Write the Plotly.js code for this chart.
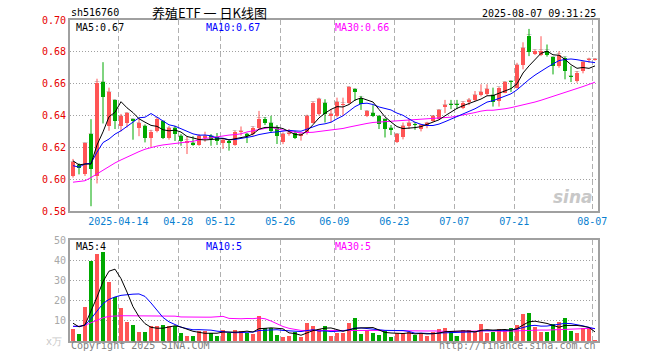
<!DOCTYPE html>
<html><head><meta charset="utf-8">
<script src="https://cdn.plot.ly/plotly-3.0.1.min.js"></script>
<style>html,body{margin:0;padding:0;background:#fff}#chart{width:660px;height:360px}</style>
</head><body><div id="chart"></div>
<script>
const dates = [
'2025-04-01','2025-04-02','2025-04-03','2025-04-07','2025-04-08','2025-04-09','2025-04-10','2025-04-11','2025-04-14','2025-04-15',
'2025-04-16','2025-04-17','2025-04-18','2025-04-21','2025-04-22','2025-04-23','2025-04-24','2025-04-25','2025-04-28','2025-04-29',
'2025-04-30','2025-05-06','2025-05-07','2025-05-08','2025-05-09','2025-05-12','2025-05-13','2025-05-14','2025-05-15','2025-05-16',
'2025-05-19','2025-05-20','2025-05-21','2025-05-22','2025-05-23','2025-05-26','2025-05-27','2025-05-28','2025-05-29','2025-05-30',
'2025-06-03','2025-06-04','2025-06-05','2025-06-06','2025-06-09','2025-06-10','2025-06-11','2025-06-12','2025-06-13','2025-06-16',
'2025-06-17','2025-06-18','2025-06-19','2025-06-20','2025-06-23','2025-06-24','2025-06-25','2025-06-26','2025-06-27','2025-06-30',
'2025-07-01','2025-07-02','2025-07-03','2025-07-04','2025-07-07','2025-07-08','2025-07-09','2025-07-10','2025-07-11','2025-07-14',
'2025-07-15','2025-07-16','2025-07-17','2025-07-18','2025-07-21','2025-07-22','2025-07-23','2025-07-24','2025-07-25','2025-07-28',
'2025-07-29','2025-07-30','2025-07-31','2025-08-01','2025-08-04','2025-08-05','2025-08-06','2025-08-07'];

const open = [
0.6017,0.6090,0.6030,0.6283,0.6023,0.6610,0.6335,0.6496,0.6331,0.6356,
0.6377,0.6319,0.6335,0.6258,0.6300,0.6365,0.6260,0.6319,0.6269,0.6227,
0.6227,0.6215,0.6258,0.6269,0.6262,0.6227,0.6242,0.6215,0.6296,0.6283,
0.6283,0.6319,0.6381,0.6352,0.6319,0.6231,0.6283,0.6292,0.6269,0.6294,
0.6356,0.6408,0.6477,0.6400,0.6398,0.6467,0.6477,0.6565,0.6513,0.6398,
0.6415,0.6394,0.6377,0.6319,0.6231,0.6262,0.6335,0.6348,0.6315,0.6335,
0.6367,0.6381,0.6456,0.6467,0.6467,0.6450,0.6485,0.6498,0.6527,0.6533,
0.6527,0.6492,0.6544,0.6615,0.6575,0.6715,0.6902,0.6788,0.6783,0.6808,
0.6767,0.6710,0.6763,0.6646,0.6615,0.6679,0.6748,0.6748];
const high = [
0.6127,0.6100,0.6230,0.6377,0.6631,0.6735,0.6575,0.6500,0.6410,0.6420,
0.6380,0.6380,0.6344,0.6310,0.6388,0.6367,0.6335,0.6335,0.6283,0.6269,
0.6270,0.6283,0.6298,0.6283,0.6290,0.6258,0.6252,0.6304,0.6331,0.6290,
0.6331,0.6429,0.6390,0.6398,0.6340,0.6294,0.6315,0.6304,0.6288,0.6405,
0.6488,0.6512,0.6502,0.6440,0.6512,0.6512,0.6583,0.6570,0.6523,0.6433,
0.6465,0.6400,0.6380,0.6340,0.6290,0.6356,0.6381,0.6356,0.6346,0.6360,
0.6402,0.6440,0.6498,0.6498,0.6498,0.6490,0.6510,0.6554,0.6596,0.6596,
0.6575,0.6580,0.6615,0.6620,0.6731,0.6860,0.6944,0.6815,0.6898,0.6846,
0.6770,0.6804,0.6770,0.6710,0.6679,0.6740,0.6763,0.6760];
const low = [
0.6010,0.6030,0.6020,0.5830,0.5973,0.6350,0.6304,0.6315,0.6300,0.6325,
0.6248,0.6270,0.6231,0.6200,0.6294,0.6252,0.6248,0.6240,0.6210,0.6158,
0.6210,0.6210,0.6235,0.6210,0.6215,0.6190,0.6179,0.6210,0.6273,0.6227,
0.6273,0.6310,0.6340,0.6290,0.6221,0.6220,0.6273,0.6252,0.6242,0.6280,
0.6350,0.6400,0.6356,0.6356,0.6388,0.6398,0.6470,0.6492,0.6435,0.6390,
0.6390,0.6315,0.6262,0.6277,0.6227,0.6250,0.6315,0.6310,0.6300,0.6320,
0.6360,0.6375,0.6415,0.6440,0.6440,0.6440,0.6465,0.6490,0.6520,0.6525,
0.6456,0.6456,0.6540,0.6548,0.6570,0.6690,0.6773,0.6780,0.6773,0.6770,
0.6658,0.6700,0.6627,0.6610,0.6606,0.6665,0.6731,0.6745];
const close = [
0.6106,0.6070,0.6227,0.6065,0.6606,0.6517,0.6546,0.6367,0.6398,0.6413,
0.6367,0.6352,0.6260,0.6298,0.6381,0.6260,0.6319,0.6283,0.6237,0.6242,
0.6215,0.6269,0.6269,0.6252,0.6237,0.6248,0.6227,0.6298,0.6300,0.6269,
0.6323,0.6381,0.6352,0.6304,0.6269,0.6283,0.6290,0.6260,0.6283,0.6398,
0.6481,0.6502,0.6408,0.6404,0.6483,0.6471,0.6579,0.6548,0.6471,0.6427,
0.6398,0.6346,0.6315,0.6310,0.6283,0.6335,0.6352,0.6340,0.6340,0.6352,
0.6398,0.6435,0.6465,0.6463,0.6463,0.6481,0.6498,0.6527,0.6548,0.6565,
0.6485,0.6575,0.6610,0.6610,0.6715,0.6825,0.6798,0.6808,0.6808,0.6783,
0.6710,0.6783,0.6679,0.6642,0.6669,0.6735,0.6756,0.6756];
const volume = [
5.8,3.5,16.7,39.7,43,44.2,29.2,21.7,16.3,9.6,
8,4.5,4.5,7.2,7.5,8,7.5,7.5,4,2.5,
2.5,5,5,4.2,2.5,5.5,4.2,5.5,5,4.2,
3.3,12.5,6.3,6.3,3,2,2.5,4.7,2,9,
7.5,5.8,7.5,2.5,4.2,4.2,9,11.5,3.5,5.3,
4,3,5.5,2,4,4,4.5,3,3.5,2.5,
4.5,6,6.5,4.5,2.5,5.5,5.5,4.5,8.5,4,
4.5,6,5.5,6.5,8,13.5,14,7,4.5,4.5,
8.5,9.5,11.5,5,4,6.5,6.5,0.5];

// moving-average values at the start of the window
const ma5Head  = [0.6115,0.6090,0.6095,0.6095];
const ma10Head = [0.6085,0.6075,0.6096,0.6100,0.6170,0.6230,0.6252,0.6283,0.6304];
const ma30Head = [0.5981,0.5985,0.5990,0.6010,0.6033,0.6060,0.6081,0.6102,0.6121,0.6140,
                  0.6158,0.6173,0.6188,0.6200,0.6208,0.6215,0.6219,0.6223,0.6227,0.6231,
                  0.6238,0.6246,0.6256,0.6260,0.6267,0.6273,0.6277,0.6280,0.6285];
const vma5Head  = [8.8,7.0,8.0,14.5];
const vma10Head = [7.3,7.2,7.8,11.0,14.8,18.5,20.6,21.8,22.6];
const vma30Head = [7.2,7.3,7.8,9.0,10.5,11.5,12.2,12.5,12.5,12.5,12.5,12.5,12.5,12.5,12.5,
                   12.5,12.5,12.3,11.9,11.8,11.8,11.8,11.8,11.8,12.0,12.2,11.2,11.0,11.0];

const tickDates = ['2025-04-14','2025-04-28','2025-05-12','2025-05-26','2025-06-09','2025-06-23','2025-07-07','2025-07-21','2025-08-07'];
const tickText  = ['2025-04-14','04-28','05-12','05-26','06-09','06-23','07-07','07-21','08-07'];
const priceTicks = [0.58,0.60,0.62,0.64,0.66,0.68,0.70];
const volTicks = [10,20,30,40,50];

const RED = '#ff5555', GREEN = '#00a800';
const MONO = 'DejaVu Sans Mono, Liberation Mono, monospace';

function movingAvg(vals, n, head) {
  return vals.map((v, i) => {
    if (i < n - 1) return head[i];
    let s = 0; for (let k = i - n + 1; k <= i; k++) s += vals[k];
    return s / n;
  });
}

const idx = dates.map((d, i) => i);
const up = close.map((c, i) => c >= open[i]);
const colors = up.map(u => u ? RED : GREEN);
const bodyBase = close.map((c, i) => Math.min(c, open[i]));
const bodyLen = close.map((c, i) => Math.max(Math.abs(c - open[i]), 0.0007));

function wicks(sel) {
  const x = [], y = [];
  idx.forEach(i => { if (up[i] === sel) { x.push(i, i, null); y.push(low[i], high[i], null); } });
  return {x, y};
}
const wUp = wicks(true), wDn = wicks(false);

const traces = [
  {type:'scatter', mode:'lines', x:wUp.x, y:wUp.y, line:{color:RED, width:1}, xaxis:'x', yaxis:'y', hoverinfo:'skip'},
  {type:'scatter', mode:'lines', x:wDn.x, y:wDn.y, line:{color:GREEN, width:1}, xaxis:'x', yaxis:'y', hoverinfo:'skip'},
  {type:'bar', x:idx, y:bodyLen, base:bodyBase, width:0.8, marker:{color:colors, line:{width:0}}, xaxis:'x', yaxis:'y', text:dates, hoverinfo:'text'},
  {type:'scatter', mode:'lines', x:idx, y:movingAvg(close,30,ma30Head), line:{color:'#ff00ff', width:1}, xaxis:'x', yaxis:'y'},
  {type:'scatter', mode:'lines', x:idx, y:movingAvg(close,10,ma10Head), line:{color:'#0000ff', width:1}, xaxis:'x', yaxis:'y'},
  {type:'scatter', mode:'lines', x:idx, y:movingAvg(close,5,ma5Head), line:{color:'#000000', width:1}, xaxis:'x', yaxis:'y'},
  {type:'bar', x:idx, y:volume, width:0.82, marker:{color:colors, line:{width:0}}, xaxis:'x2', yaxis:'y2'},
  {type:'scatter', mode:'lines', x:idx, y:movingAvg(volume,30,vma30Head), line:{color:'#ff00ff', width:1}, xaxis:'x2', yaxis:'y2'},
  {type:'scatter', mode:'lines', x:idx, y:movingAvg(volume,10,vma10Head), line:{color:'#0000ff', width:1}, xaxis:'x2', yaxis:'y2'},
  {type:'scatter', mode:'lines', x:idx, y:movingAvg(volume,5,vma5Head), line:{color:'#000000', width:1}, xaxis:'x2', yaxis:'y2'}
];

const tickPos = tickDates.map(d => dates.indexOf(d) - 0.45);
const frame = {showline:true, mirror:true, linecolor:'#a0a0a0', linewidth:2, zeroline:false, fixedrange:true};

const ann = (text, x, y, xanchor, color, size, family) => ({
  text, x, y, xref:'paper', yref:'paper', xanchor, yanchor:'middle', showarrow:false,
  font:{family: family || MONO, size: size || 10, color: color || '#000'}
});

const layout = {
  width:660, height:360,
  margin:{l:70, r:62, t:20, b:19},
  paper_bgcolor:'#fff', plot_bgcolor:'#fff',
  showlegend:false, barmode:'overlay', bargap:0,
  title:{text:'养殖ETF 一 日K线图', x:209.5/660, y:1-13/360, xanchor:'center', yanchor:'middle', xref:'container', yref:'container',
         font:{family:'Noto Sans CJK SC, sans-serif', size:13, color:'#000'}},
  xaxis: Object.assign({}, frame, {domain:[0,1], anchor:'y', range:[-0.5, 87.5], tickmode:'array', tickvals:tickPos, ticktext:tickText,
          tickfont:{family:MONO, size:10, color:'#0a7fd0'}, ticks:'', showgrid:true, gridcolor:'#b0b0b0', griddash:'5px,3px', gridwidth:1}),
  yaxis: Object.assign({}, frame, {domain:[130/321, 1], anchor:'x', range:[0.58, 0.70], tickmode:'array', tickvals:priceTicks, tickformat:'.2f',
          tickfont:{family:MONO, size:10, color:'#e60000'}, ticks:'', showgrid:true, gridcolor:'#a0a0a0', griddash:'1px,2px', gridwidth:1}),
  xaxis2: Object.assign({}, frame, {domain:[0,1], anchor:'y2', matches:'x', range:[-0.5, 87.5], tickmode:'array', tickvals:tickPos,
          showticklabels:false, ticks:'', showgrid:true, gridcolor:'#b0b0b0', griddash:'5px,3px', gridwidth:1}),
  yaxis2: Object.assign({}, frame, {domain:[0, 101/321], anchor:'x2', range:[0, 50], tickmode:'array', tickvals:volTicks,
          tickfont:{family:MONO, size:10, color:'#a8a8a8'}, ticks:'', showgrid:true, gridcolor:'#a0a0a0', griddash:'1px,2px', gridwidth:1}),
  annotations:[
    ann('sh516760', -0.002, 1+ (341-13)/321 - 1, 'left'),
    ann('2025-08-07 09:31:25', 1.0, (341-13)/321, 'right'),
    ann('MA5:0.67', 0.007, (341-27)/321, 'left', '#000'),
    ann('MA10:0.67', 0.253, (341-27)/321, 'left', '#0000ff'),
    ann('MA30:0.66', 0.499, (341-27)/321, 'left', '#ff00ff'),
    ann('MA5:4', 0.007, (341-246)/321, 'left', '#000'),
    ann('MA10:5', 0.253, (341-246)/321, 'left', '#0000ff'),
    ann('MA30:5', 0.499, (341-246)/321, 'left', '#ff00ff'),
    ann('Copyright 2025 SINA.COM', -0.002, (341-346)/321, 'left', '#808080'),
    ann('http://finance.sina.com.cn', 1.0, (341-346)/321, 'right', '#808080'),
    ann('x万', -0.012, 0, 'right', '#c8c8c8', 10),
    {text:'<b><i>sina</i></b>', x:0.995, y:(341-197)/321, xref:'paper', yref:'paper', xanchor:'right', yanchor:'middle', showarrow:false,
     font:{family:'DejaVu Sans, sans-serif', size:17, color:'#c8c8c8'}}
  ]
};

Plotly.newPlot('chart', traces, layout, {staticPlot:true, displayModeBar:false});
</script></body></html>
